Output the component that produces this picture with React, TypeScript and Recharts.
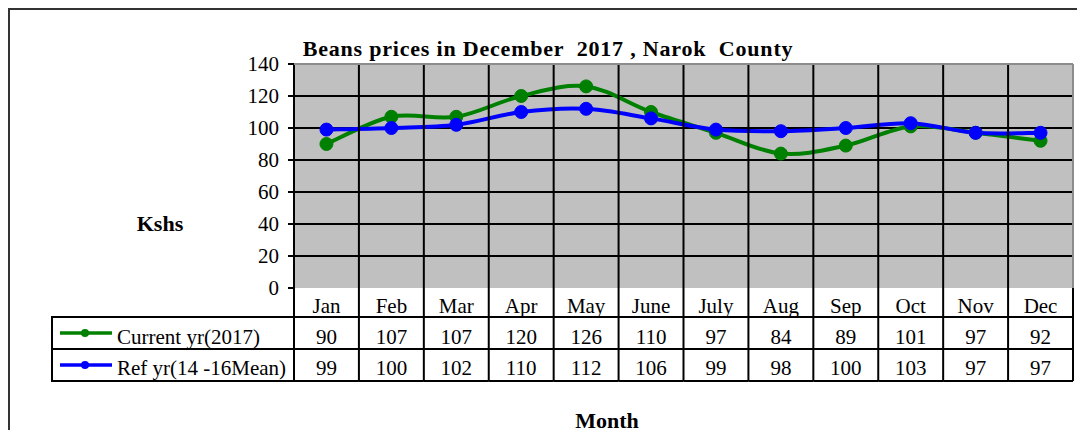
import React from "react";
import { LineChart, Line, XAxis, YAxis, CartesianGrid } from "recharts";

const months = ["Jan", "Feb", "Mar", "Apr", "May", "June", "July", "Aug", "Sep", "Oct", "Nov", "Dec"];
const current = [90, 107, 107, 120, 126, 110, 97, 84, 89, 101, 97, 92];
const reference = [99, 100, 102, 110, 112, 106, 99, 98, 100, 103, 97, 97];
const yTicks = [0, 20, 40, 60, 80, 100, 120, 140];
const gridValues = [20, 40, 60, 80, 100, 120];

const seriesNames = ["Current yr(2017)", "Ref yr(14 -16Mean)"];
const GREEN = "#008000";
const BLUE = "#0000FF";

const data = months.map((m, i) => ({ month: m, current: current[i], ref: reference[i] }));

// chart geometry (inside the svg)
const W = 1077;
const H = 422;
const PLOT_LEFT = 286;
const PLOT_RIGHT = 1065;
const PLOT_TOP = 56;
const PLOT_BOTTOM = 280;
const COL_W = (PLOT_RIGHT - PLOT_LEFT) / months.length;
const TABLE_TOP = 309;
const ROW_SEP = 341;
const TABLE_BOTTOM = 373;
const TABLE_LEFT = 44;
const FONT = "'Liberation Serif', 'Times New Roman', serif";
const FS = 21;

// Excel-like smoothing (Catmull-Rom through every point)
const smoothCurve: any = (context: any) => {
  let pts: number[][] = [];
  return {
    areaStart() {},
    areaEnd() {},
    lineStart() {
      pts = [];
    },
    point(x: number, y: number) {
      pts.push([+x, +y]);
    },
    lineEnd() {
      if (!pts.length) return;
      context.moveTo(pts[0][0], pts[0][1]);
      for (let i = 0; i < pts.length - 1; i++) {
        const p0 = pts[i - 1] || pts[i];
        const p1 = pts[i];
        const p2 = pts[i + 1];
        const p3 = pts[i + 2] || p2;
        context.bezierCurveTo(
          p1[0] + (p2[0] - p0[0]) / 6,
          p1[1] + (p2[1] - p0[1]) / 6,
          p2[0] - (p3[0] - p1[0]) / 6,
          p2[1] - (p3[1] - p1[1]) / 6,
          p2[0],
          p2[1]
        );
      }
    },
  };
};

const line = (x1: number, y1: number, x2: number, y2: number, stroke = "#000", w = 2) => (
  <line x1={x1} y1={y1} x2={x2} y2={y2} stroke={stroke} strokeWidth={w} />
);

// each month tick draws its whole column of the data table
const TableTick = (props: any) => {
  const { x, payload } = props;
  const i = payload.index;
  const left = x - COL_W / 2;
  const right = x + COL_W / 2;
  const last = i === months.length - 1;
  const textProps = { textAnchor: "middle" as const, fontFamily: FONT, fontSize: FS, fill: "#000" };
  return (
    <g>
      {line(left, i === 0 ? PLOT_BOTTOM : PLOT_TOP, left, TABLE_BOTTOM)}
      {last && line(right, PLOT_BOTTOM, right, TABLE_BOTTOM)}
      {last && line(PLOT_LEFT, PLOT_TOP, PLOT_RIGHT, PLOT_TOP, "#8c8c8c", 2)}
      {last && line(PLOT_RIGHT, PLOT_TOP, PLOT_RIGHT, PLOT_BOTTOM, "#8c8c8c", 2)}
      {line(left, TABLE_TOP, right, TABLE_TOP)}
      {line(left, ROW_SEP, right, ROW_SEP)}
      {line(left, TABLE_BOTTOM, right, TABLE_BOTTOM)}
      <text x={x} y={305} {...textProps}>{payload.value}</text>
      <text x={x} y={336} {...textProps}>{current[i]}</text>
      <text x={x} y={367} {...textProps}>{reference[i]}</text>
      {i === 0 && (
        <g>
          {line(TABLE_LEFT, TABLE_TOP, left, TABLE_TOP)}
          {line(TABLE_LEFT, ROW_SEP, left, ROW_SEP)}
          {line(TABLE_LEFT, TABLE_BOTTOM, left, TABLE_BOTTOM)}
          {line(TABLE_LEFT, TABLE_TOP - 1, TABLE_LEFT, TABLE_BOTTOM + 1)}
          {[GREEN, BLUE].map((c, k) => {
            const cy = (k === 0 ? (TABLE_TOP + ROW_SEP) : (ROW_SEP + TABLE_BOTTOM)) / 2;
            return (
              <g key={c}>
                {line(52, cy, 104, cy, c, 3.5)}
                <circle cx={77} cy={cy} r={4} fill={c} />
                <text x={109} y={k === 0 ? 336 : 367} fontFamily={FONT} fontSize={FS} fill="#000">
                  {seriesNames[k]}
                </text>
              </g>
            );
          })}
        </g>
      )}
    </g>
  );
};

const labelStyle: React.CSSProperties = {
  position: "absolute",
  fontFamily: FONT,
  fontWeight: "bold",
  fontSize: 22,
  lineHeight: "22px",
  textAlign: "center",
  color: "#000",
  whiteSpace: "pre",
};

export default function App() {
  return (
    <div style={{ position: "relative", width: W, height: H, overflow: "hidden", background: "#fff" }}>
      <LineChart width={W} height={H} data={data} margin={{ top: PLOT_TOP, right: W - PLOT_RIGHT, bottom: 0, left: 0 }}>
        <CartesianGrid
          vertical={false}
          horizontalValues={gridValues}
          stroke="#000"
          strokeWidth={2}
          fill="#C0C0C0"
          fillOpacity={1}
        />
        <XAxis
          dataKey="month"
          scale="band"
          height={H - PLOT_BOTTOM}
          axisLine={false}
          tickLine={false}
          tickSize={0}
          tickMargin={0}
          interval={0}
          tick={<TableTick />}
        />
        <YAxis
          width={PLOT_LEFT}
          domain={[0, 140]}
          ticks={yTicks}
          interval={0}
          axisLine={{ stroke: "#000", strokeWidth: 2 }}
          tickLine={{ stroke: "#000", strokeWidth: 2 }}
          tickSize={6}
          tickMargin={9}
          tick={{ fill: "#000", fontSize: FS, fontFamily: FONT }}
        />
        <Line
          dataKey="current"
          type={smoothCurve}
          stroke={GREEN}
          strokeWidth={4}
          dot={{ r: 6.5, fill: GREEN, stroke: GREEN, strokeWidth: 1 }}
          isAnimationActive={false}
        />
        <Line
          dataKey="ref"
          type={smoothCurve}
          stroke={BLUE}
          strokeWidth={4}
          dot={{ r: 6.5, fill: BLUE, stroke: BLUE, strokeWidth: 1 }}
          isAnimationActive={false}
        />
      </LineChart>
      <div style={{ ...labelStyle, left: 240, top: 30, width: 600, letterSpacing: 0.8 }}>
        {"Beans prices in December  2017 , Narok  County"}
      </div>
      <div style={{ ...labelStyle, left: 102, top: 205, width: 100 }}>Kshs</div>
      <div style={{ ...labelStyle, left: 549, top: 402, width: 100 }}>Month</div>
      <div
        style={{
          position: "absolute",
          left: 0,
          top: 0,
          width: 1200,
          height: 600,
          border: "2px solid #333",
          pointerEvents: "none",
        }}
      />
    </div>
  );
}
